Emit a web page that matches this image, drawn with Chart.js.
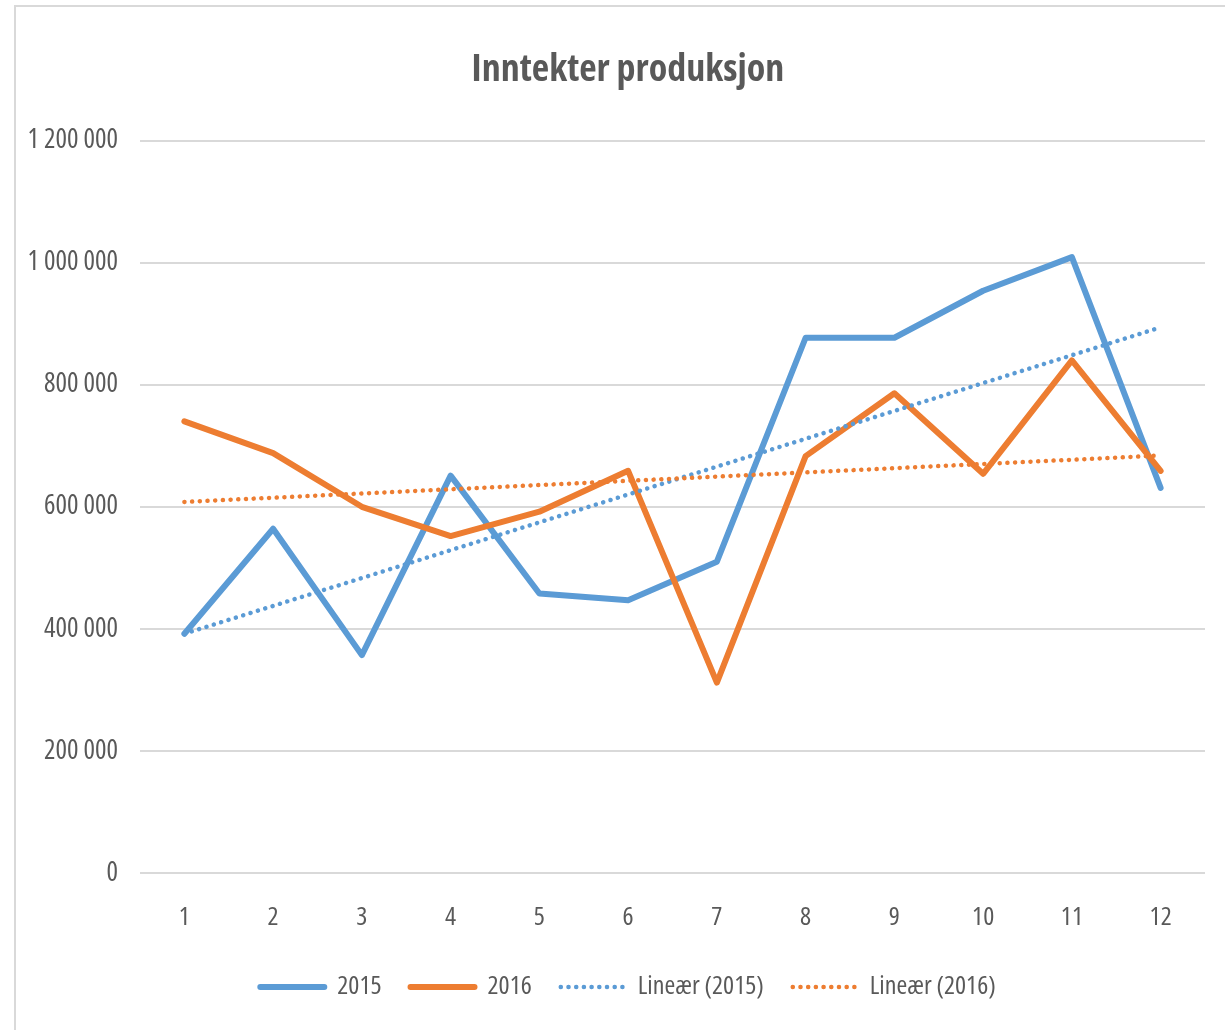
<!DOCTYPE html>
<html>
<head>
<meta charset="utf-8">
<script src="https://cdn.jsdelivr.net/npm/chart.js@4.4.1/dist/chart.umd.min.js"></script>
<style>
  html, body { margin: 0; padding: 0; background: #ffffff; overflow: hidden; }
  #frame { position: absolute; left: 14px; top: 5px; width: 1300px; height: 1100px; border: 2px solid #d9d9d9; }
  #wrap { position: absolute; left: 0; top: 0; width: 1225px; height: 1030px; overflow: hidden; }
</style>
</head>
<body>
<div id="frame"></div>
<div id="wrap"><canvas id="c" width="1256" height="1030"></canvas></div>
<script>
const chartTitle = 'Inntekter produksjon';
const months = ['1','2','3','4','5','6','7','8','9','10','11','12'];
const values2015 = [392000, 564000, 357000, 651000, 458000, 447000, 510000, 877000, 877000, 954000, 1009000, 631000];
const values2016 = [740000, 688000, 600000, 552000, 592000, 659000, 312000, 683000, 786000, 654000, 840000, 659000];
// trend line end points (Excel linear trendlines)
const trend2015 = [392000, null, null, null, null, null, null, null, null, null, null, 894000];
const trend2016 = [608000, null, null, null, null, null, null, null, null, null, null, 684000];
const seriesNames = ['2015', '2016', 'Lineær (2015)', 'Lineær (2016)'];
const yTicks = { min: 0, max: 1200000, step: 200000 };

const FONT = "'Open Sans', 'Roboto Condensed', sans-serif";
const BLUE = '#5B9BD5', ORANGE = '#ED7D31', GREY = '#595959';
const DOTS = [0.1, 7.6];

const fmt = v => String(v).replace(/\B(?=(\d{3})+(?!\d))/g, ' ');

new Chart(document.getElementById('c'), {
  type: 'line',
  data: {
    labels: months,
    datasets: [
      { label: seriesNames[0], data: values2015, borderColor: BLUE, backgroundColor: BLUE, borderWidth: 6, pointRadius: 0, borderJoinStyle: 'round', borderCapStyle: 'round', order: 3 },
      { label: seriesNames[1], data: values2016, borderColor: ORANGE, backgroundColor: ORANGE, borderWidth: 6, pointRadius: 0, borderJoinStyle: 'round', borderCapStyle: 'round', order: 2 },
      { label: seriesNames[2], data: trend2015, borderColor: BLUE, backgroundColor: BLUE, borderWidth: 4.5, pointRadius: 0, spanGaps: true, borderDash: DOTS, borderCapStyle: 'round', order: 1 },
      { label: seriesNames[3], data: trend2016, borderColor: ORANGE, backgroundColor: ORANGE, borderWidth: 4.5, pointRadius: 0, spanGaps: true, borderDash: DOTS, borderCapStyle: 'round', order: 0 }
    ]
  },
  options: {
    responsive: false,
    animation: false,
    devicePixelRatio: 1,
    layout: { padding: { left: 0, right: 0, top: 0, bottom: 20 } },
    plugins: {
      tooltip: { enabled: false },
      title: {
        display: true,
        text: chartTitle,
        color: GREY,
        font: { family: FONT, size: 38, weight: 'bold condensed' },
        padding: { top: 47, bottom: 48 }
      },
      legend: {
        position: 'bottom',
        labels: {
          color: GREY,
          font: { family: FONT, size: 26, weight: 'condensed' },
          usePointStyle: true,
          pointStyle: 'line',
          pointStyleWidth: 64,
          padding: 29,
          generateLabels: chart => chart.data.datasets.map((ds, i) => ({
            text: ds.label,
            fillStyle: ds.borderColor,
            strokeStyle: ds.borderColor,
            lineWidth: ds.borderWidth,
            lineDash: ds.borderDash || [],
            lineCap: 'round',
            pointStyle: 'line',
            fontColor: GREY,
            hidden: false,
            datasetIndex: i
          }))
        }
      }
    },
    scales: {
      x: {
        offset: true,
        grid: { display: false, drawTicks: false, offset: true },
        border: { display: false },
        ticks: { color: GREY, font: { family: FONT, size: 26, weight: 'condensed' }, padding: 29, maxRotation: 0, autoSkip: false },
        afterFit: s => { s.height = 72; }
      },
      y: {
        min: yTicks.min, max: yTicks.max,
        grid: { color: '#d9d9d9', lineWidth: 2, drawTicks: false },
        border: { display: false },
        ticks: { stepSize: yTicks.step, color: GREY, font: { family: FONT, size: 27, weight: 'condensed' }, padding: 22, callback: v => fmt(v) },
        afterFit: s => { s.width = 140; }
      },
      yRight: {
        position: 'right',
        display: true,
        grid: { display: false, drawTicks: false },
        border: { display: false },
        ticks: { display: false },
        afterFit: s => { s.width = 51; }
      }
    }
  }
});
</script>
</body>
</html>
